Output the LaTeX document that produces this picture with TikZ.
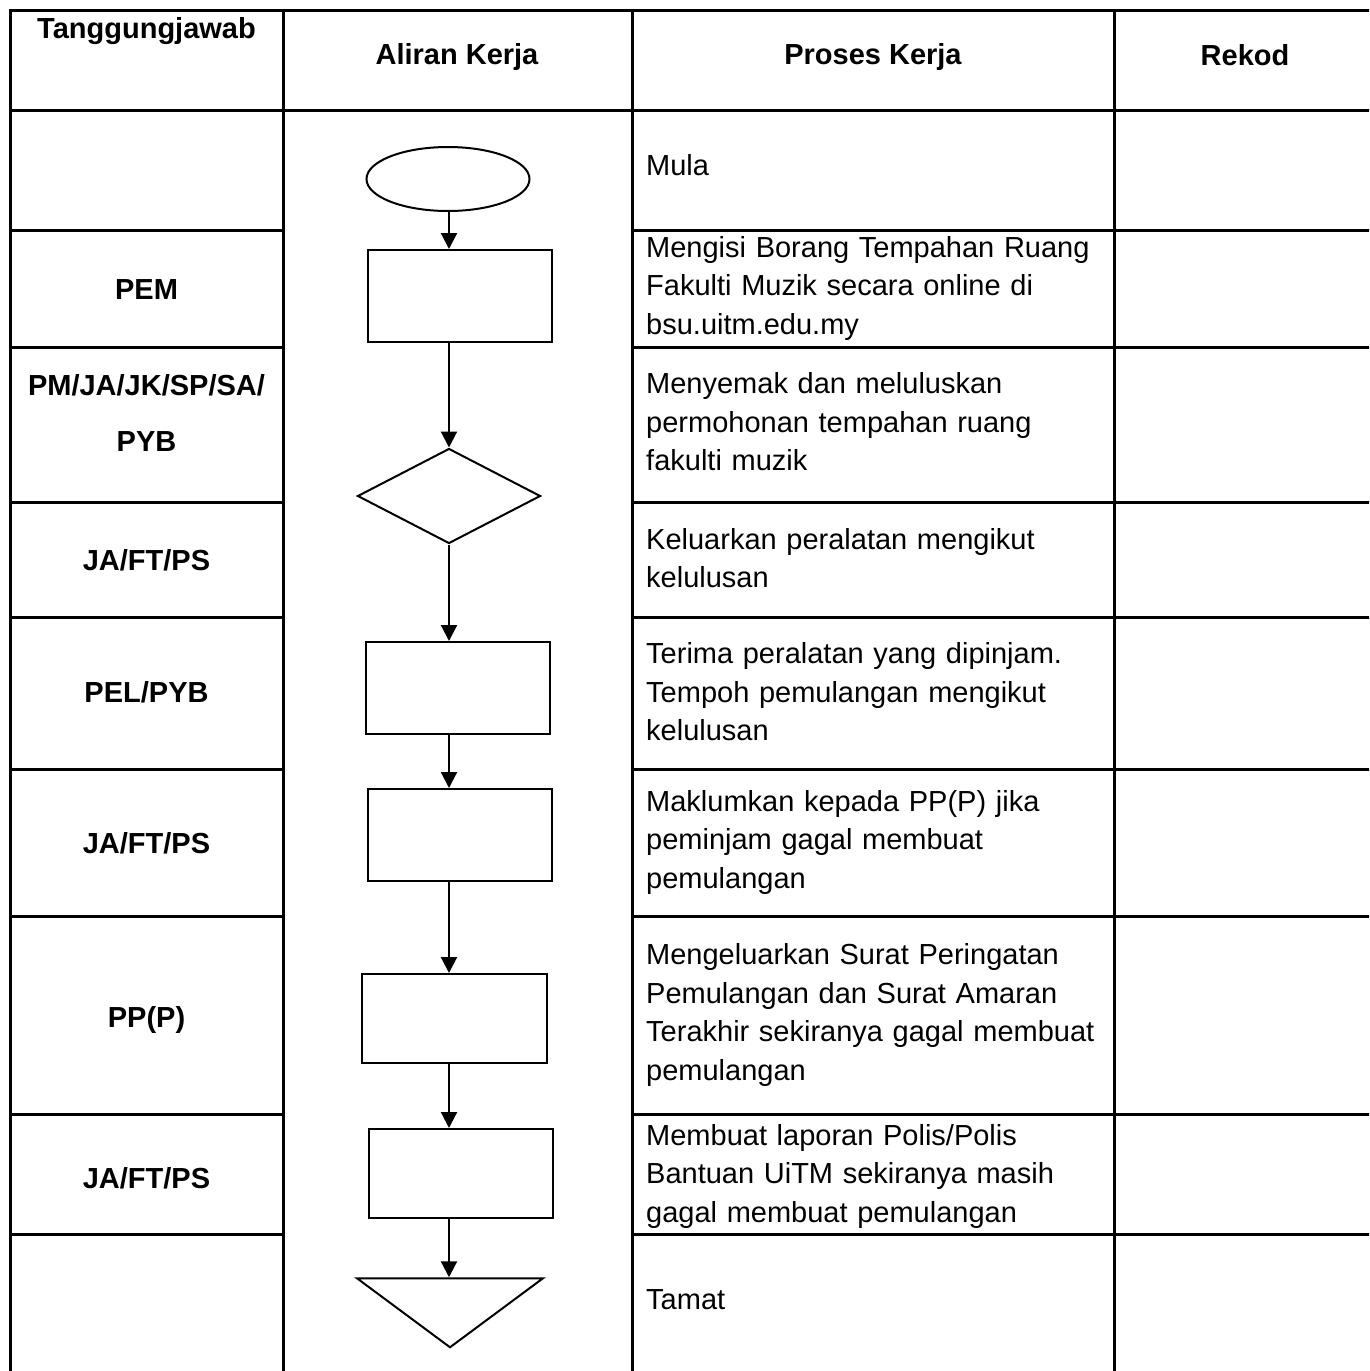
\documentclass[tikz,border=0pt]{standalone}
\usepackage{fontspec}
\setmainfont{Liberation Sans}
\usetikzlibrary{shapes.geometric,arrows.meta}
\begin{document}
\begin{tikzpicture}
    [
    x=1pt, y=-1pt,
    font=\fontsize{29}{38.5}\selectfont,
    grid/.style={line width=3pt},
    box/.style={rectangle,draw,line width=2pt,inner sep=0pt,minimum width=184pt,minimum height=92pt},
    head/.style={font=\fontsize{29}{38.5}\selectfont\bfseries,inner sep=0pt},
    who/.style={font=\fontsize{29}{56}\selectfont\bfseries,align=center,inner sep=0pt},
    task/.style={anchor=west,align=left,text width=465pt,inner sep=0pt},
    flow/.style={-{Triangle[length=16pt,width=16pt]},line width=2.2pt}
    ]
    \path[use as bounding box,clip] (0,0) rectangle (1369,1371);
    % table
    \draw [grid] (10,1380) -- (10,10) -- (1380,10);
    \draw [grid] (10,110) -- (1380,110);
    \foreach \x in {283,632,1114}
      \draw [grid] (\x,10) -- (\x,1380);
    \foreach \y in {230,347,502,617,769,916,1114,1234} {
      \draw [grid] (10,\y) -- (283,\y);
      \draw [grid] (632,\y) -- (1380,\y);
    }
    % header
    \node (h1) at (146.5,31) [head] {Tanggungjawab};
    \node (h2) at (457,57) [head] {Aliran Kerja};
    \node (h3) at (873,57) [head] {Proses Kerja};
    \node (h4) at (1245,55) [head] {Rekod};
    % tanggungjawab
    \node (w1) at (146.5,290) [who] {PEM};
    \node (w2) at (146.5,413) [who] {PM/JA/JK/SP/SA/\\PYB};
    \node (w3) at (146.5,560) [who] {JA/FT/PS};
    \node (w4) at (146.5,692) [who] {PEL/PYB};
    \node (w5) at (146.5,843) [who] {JA/FT/PS};
    \node (w6) at (146.5,1020) [who] {PP(P)};
    \node (w7) at (146.5,1178) [who] {JA/FT/PS};
    % proses kerja
    \node (p0) at (646,165) [task] {Mula};
    \node (p1) at (646,288) [task] {Mengisi Borang Tempahan Ruang\\Fakulti Muzik secara online di\\bsu.uitm.edu.my};
    \node (p2) at (646,422) [task] {Menyemak dan meluluskan\\permohonan tempahan ruang\\fakulti muzik};
    \node (p3) at (646,558) [task] {Keluarkan peralatan mengikut\\kelulusan};
    \node (p4) at (646,692) [task] {Terima peralatan yang dipinjam.\\Tempoh pemulangan mengikut\\kelulusan};
    \node (p5) at (646,842) [task] {Maklumkan kepada PP(P) jika\\peminjam gagal membuat\\pemulangan};
    \node (p6) at (646,1015) [task] {Mengeluarkan Surat Peringatan\\Pemulangan dan Surat Amaran\\Terakhir sekiranya gagal membuat\\pemulangan};
    \node (p7) at (646,1176) [task] {Membuat laporan Polis/Polis\\Bantuan UiTM sekiranya masih\\gagal membuat pemulangan};
    \node (p8) at (646,1300) [task] {Tamat};
    % aliran kerja
    \node (mula) at (448,179) [ellipse,draw,line width=2pt,inner sep=0pt,minimum width=163pt,minimum height=64pt] {};
    \node (isi) at (460,296) [box] {};
    \node (semak) at (449,496) [diamond,draw,line width=2pt,inner sep=0pt,minimum width=183pt,minimum height=95pt] {};
    \node (keluar) at (458,688) [box] {};
    \node (terima) at (460,835) [box] {};
    \node (maklum) at (454.5,1018.5) [box,minimum width=185pt,minimum height=89pt] {};
    \node (lapor) at (461,1173.5) [box,minimum height=89pt] {};
    \node (tamat) at (450,1309) [isosceles triangle,isosceles triangle stretches,shape border rotate=-90,draw,line width=2pt,inner sep=0pt,minimum width=186pt,minimum height=69pt] {};
    \draw [flow] (mula.south -| semak) -- (isi.north -| semak);
    \draw [flow] (isi.south -| semak) -- (semak.north);
    \draw [flow] (semak.south) -- (keluar.north -| semak);
    \draw [flow] (keluar.south -| semak) -- (terima.north -| semak);
    \draw [flow] (terima.south -| semak) -- (maklum.north -| semak);
    \draw [flow] (maklum.south -| semak) -- (lapor.north -| semak);
    \draw [flow] (lapor.south -| semak) -- (tamat.north -| semak);
  \end{tikzpicture}
\end{document}
